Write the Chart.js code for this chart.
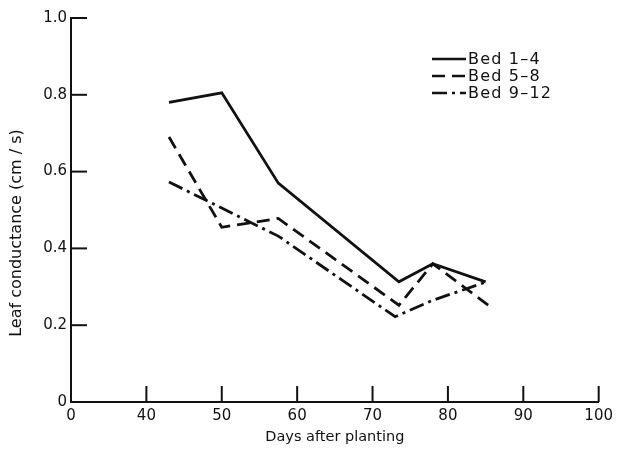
<!DOCTYPE html>
<html><head><meta charset="utf-8">
<script src="https://cdn.jsdelivr.net/npm/chart.js@4.4.0/dist/chart.umd.min.js"></script>
<style>html,body{margin:0;padding:0;background:#fff}#wrap{width:618px;height:450px}</style>
</head><body><div id="wrap"><canvas id="c" width="618" height="450"></canvas></div>
<script>
const seriesNames = ['Bed 1–4', 'Bed 5–8', 'Bed 9–12'];
const days1 = [43, 50, 57.5, 73.5, 78, 85];
const bed1 = [0.78, 0.805, 0.57, 0.313, 0.36, 0.313];
const days2 = [43, 50, 57.5, 73.5, 78, 85.5];
const bed2 = [0.69, 0.455, 0.478, 0.252, 0.36, 0.25];
const days3 = [43, 50, 57.5, 73, 78, 85];
const bed3 = [0.573, 0.505, 0.432, 0.222, 0.265, 0.312];
const xTicks = [30, 40, 50, 60, 70, 80, 90, 100];
const xTickLabels = ['0', '40', '50', '60', '70', '80', '90', '100'];
const yTicks = [0, 0.2, 0.4, 0.6, 0.8, 1.0];
const yTickLabels = ['0', '0.2', '0.4', '0.6', '0.8', '1.0'];
const xTitle = 'Days after planting';
const yTitle = 'Leaf conductance (cm / s)';

const INK = '#111';
const FONT = 'DejaVu Sans';
const toPts = (xs, ys) => xs.map((x, i) => ({x: x, y: ys[i]}));

const dashes = [[], [13, 7], [15, 5, 3, 5]];
const datasets = [toPts(days1, bed1), toPts(days2, bed2), toPts(days3, bed3)].map((d, i) => ({
  label: seriesNames[i],
  data: d,
  borderColor: INK,
  borderWidth: 2.8,
  borderDash: dashes[i],
  pointRadius: 0,
  fill: false,
  tension: 0
}));

const insideTicks = {
  id: 'insideTicks',
  afterDatasetsDraw(chart) {
    const {ctx, chartArea, scales} = chart;
    ctx.save();
    ctx.strokeStyle = INK;
    ctx.lineWidth = 2;
    yTicks.forEach(v => {
      if (v === 0) return;
      const y = scales.y.getPixelForValue(v);
      ctx.beginPath(); ctx.moveTo(chartArea.left, y); ctx.lineTo(chartArea.left + 16, y); ctx.stroke();
    });
    xTicks.forEach((v, i) => {
      if (i === 0) return;
      const x = scales.x.getPixelForValue(v);
      ctx.beginPath(); ctx.moveTo(x, chartArea.bottom); ctx.lineTo(x, chartArea.bottom - 16); ctx.stroke();
    });
    // y title
    ctx.fillStyle = INK;
    ctx.font = '16px "' + FONT + '"';
    ctx.textAlign = 'center';
    ctx.textBaseline = 'middle';
    ctx.translate(17, 233);
    ctx.rotate(-Math.PI / 2);
    ctx.fillText(yTitle, 0, 0);
    ctx.restore();

    // legend
    ctx.save();
    ctx.strokeStyle = INK;
    ctx.fillStyle = INK;
    ctx.font = '16px "' + FONT + '"';
    try { ctx.letterSpacing = '1.2px'; } catch (e) {}
    ctx.textAlign = 'left';
    ctx.textBaseline = 'middle';
    chart.data.datasets.forEach((ds, i) => {
      const y = 59 + 17 * i;
      ctx.lineWidth = 2.4;
      ctx.setLineDash(ds.borderDash || []);
      ctx.beginPath(); ctx.moveTo(432, y); ctx.lineTo(466, y); ctx.stroke();
      ctx.setLineDash([]);
      ctx.fillText(ds.label, 468, y + 1);
    });
    ctx.restore();
  }
};

new Chart(document.getElementById('c'), {
  type: 'line',
  data: {datasets: datasets},
  options: {
    responsive: false,
    devicePixelRatio: 1,
    animation: false,
    layout: {padding: {left: 0, top: 18, right: 17, bottom: 0}},
    plugins: {legend: {display: false}, tooltip: {enabled: false}},
    scales: {
      x: {
        type: 'linear',
        min: 30, max: 100,
        afterBuildTicks: s => { s.ticks = xTicks.map(v => ({value: v})); },
        afterFit: s => { s.height = 48; },
        grid: {display: true, drawOnChartArea: false, drawTicks: false},
        border: {display: true, color: INK, width: 2},
        ticks: {
          color: INK, padding: 5, maxRotation: 0, autoSkip: false,
          font: {family: FONT, size: 15},
          callback: (v, i) => xTickLabels[i]
        },
        title: {display: true, text: xTitle, color: INK, font: {family: FONT, size: 14.5}, padding: {top: 0, bottom: 4}}
      },
      y: {
        type: 'linear',
        min: 0, max: 1,
        afterBuildTicks: s => { s.ticks = yTicks.map(v => ({value: v})); },
        afterFit: s => { s.width = 71; },
        grid: {display: true, drawOnChartArea: false, drawTicks: false},
        border: {display: true, color: INK, width: 2},
        ticks: {
          color: INK, padding: 4, autoSkip: false,
          font: {family: FONT, size: 15},
          callback: (v, i) => yTickLabels[i]
        },
        title: {display: false}
      }
    }
  },
  plugins: [insideTicks]
});
</script>
</body></html>
